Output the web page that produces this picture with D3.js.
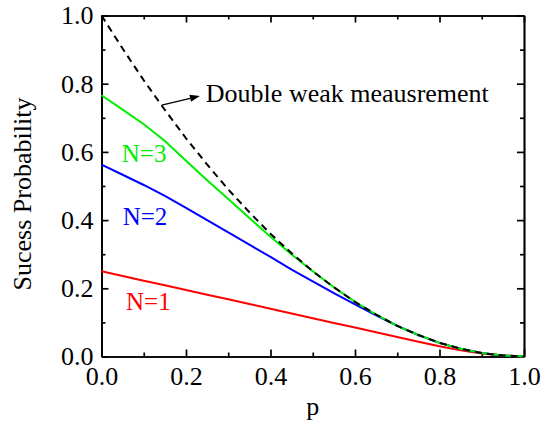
<!DOCTYPE html>
<html>
<head>
<meta charset="utf-8">
<script src="https://cdn.jsdelivr.net/npm/d3@7"></script>
<style>
	body { margin: 0; background: #fff; }
	svg, svg text, .axis text { font-family: "Times New Roman", "Liberation Serif", Times, "DejaVu Serif", serif !important; }
	.axis path, .axis line { stroke: #000; stroke-width: 1.7; }
	.axis text { font-size: 26px; fill: #000; }
</style>
</head>
<body>
<svg id="chart"></svg>
<script>
// values, p from 0 to 1 in steps of 0.05
const pValues = [0, 0.05, 0.1, 0.15, 0.2, 0.25, 0.3, 0.35, 0.4, 0.45, 0.5,
	0.55, 0.6, 0.65, 0.7, 0.75, 0.8, 0.85, 0.9, 0.95, 1];
const doubleWeak = [1.000, 0.903, 0.810, 0.723, 0.640, 0.563, 0.490, 0.423, 0.360, 0.303, 0.250,
	0.203, 0.160, 0.123, 0.090, 0.063, 0.040, 0.023, 0.010, 0.003, 0.000];
const n3 = [0.766, 0.724, 0.681, 0.632, 0.574, 0.517, 0.462, 0.406, 0.351, 0.299, 0.250,
	0.203, 0.160, 0.123, 0.090, 0.063, 0.040, 0.023, 0.010, 0.003, 0.000];
const n2 = [0.5625, 0.533, 0.503, 0.471, 0.436, 0.400, 0.364, 0.328, 0.292, 0.255, 0.220,
	0.186, 0.153, 0.121, 0.090, 0.063, 0.040, 0.023, 0.010, 0.003, 0.000];
const n1 = [0.250, 0.236, 0.222, 0.209, 0.195, 0.181, 0.168, 0.154, 0.140, 0.126, 0.112,
	0.098, 0.085, 0.071, 0.057, 0.043, 0.030, 0.018, 0.009, 0.003, 0.000];

const majorTicks = [0, 0.2, 0.4, 0.6, 0.8, 1.0];
const minorTicks = [0.1, 0.3, 0.5, 0.7, 0.9];

const serif = "'Times New Roman', 'Liberation Serif', Times, 'DejaVu Serif', serif";

const viewWidth = 547;
const viewHeight = 423;
const margin = { top: 15.5, right: 23, bottom: 66.5, left: 101.5 };
const width = viewWidth - margin.left - margin.right;
const height = viewHeight - margin.top - margin.bottom;

const svg = d3.select("#chart")
	.attr("width", viewWidth)
	.attr("height", viewHeight)
	.append("g")
	.attr("transform", "translate(" + margin.left + "," + margin.top + ")");

const x = d3.scaleLinear().domain([0, 1]).range([0, width]);
const y = d3.scaleLinear().domain([0, 1]).range([height, 0]);

const fmt = d3.format(".1f");

// major ticks with labels
svg.append("g")
	.attr("class", "axis")
	.attr("transform", "translate(0," + height + ")")
	.call(d3.axisBottom(x).tickValues(majorTicks).tickFormat(fmt)
		.tickSizeInner(-7).tickSizeOuter(0).tickPadding(10));

svg.append("g")
	.attr("class", "axis")
	.call(d3.axisLeft(y).tickValues(majorTicks).tickFormat(fmt)
		.tickSizeInner(-7).tickSizeOuter(0).tickPadding(8));

// mirrored axes on top and right
svg.append("g")
	.attr("class", "axis")
	.call(d3.axisTop(x).tickValues(majorTicks).tickFormat("")
		.tickSizeInner(-7).tickSizeOuter(0));

svg.append("g")
	.attr("class", "axis")
	.attr("transform", "translate(" + width + ",0)")
	.call(d3.axisRight(y).tickValues(majorTicks).tickFormat("")
		.tickSizeInner(-7).tickSizeOuter(0));

// minor ticks
svg.append("g").attr("class", "axis")
	.attr("transform", "translate(0," + height + ")")
	.call(d3.axisBottom(x).tickValues(minorTicks).tickFormat("").tickSizeInner(-4).tickSizeOuter(0));
svg.append("g").attr("class", "axis")
	.call(d3.axisLeft(y).tickValues(minorTicks).tickFormat("").tickSizeInner(-4).tickSizeOuter(0));
svg.append("g").attr("class", "axis")
	.call(d3.axisTop(x).tickValues(minorTicks).tickFormat("").tickSizeInner(-4).tickSizeOuter(0));
svg.append("g").attr("class", "axis")
	.attr("transform", "translate(" + width + ",0)")
	.call(d3.axisRight(y).tickValues(minorTicks).tickFormat("").tickSizeInner(-4).tickSizeOuter(0));

svg.selectAll(".axis").attr("font-family", serif);

const line = d3.line()
	.x(function (d, i) { return x(pValues[i]) })
	.y(function (d) { return y(d) });

svg.append("path")
	.datum(n1)
	.attr("fill", "none")
	.attr("stroke", "#ff0000")
	.attr("stroke-width", 2)
	.attr("d", line);

svg.append("path")
	.datum(n2)
	.attr("fill", "none")
	.attr("stroke", "#0000ff")
	.attr("stroke-width", 2)
	.attr("d", line);

svg.append("path")
	.datum(n3)
	.attr("fill", "none")
	.attr("stroke", "#00ee00")
	.attr("stroke-width", 2)
	.attr("d", line);

svg.append("path")
	.datum(doubleWeak)
	.attr("fill", "none")
	.attr("stroke", "#000")
	.attr("stroke-width", 2)
	.attr("stroke-dasharray", "7,5")
	.attr("d", line);

// curve labels
svg.append("text")
	.attr("x", x(0.048)).attr("y", y(0.571))
	.attr("font-family", serif)
	.style("font-size", "25px").style("fill", "#00ee00")
	.text("N=3");

svg.append("text")
	.attr("x", x(0.050)).attr("y", y(0.386))
	.attr("font-family", serif)
	.style("font-size", "25px").style("fill", "#0000ff")
	.text("N=2");

svg.append("text")
	.attr("x", x(0.058)).attr("y", y(0.136))
	.attr("font-family", serif)
	.style("font-size", "25px").style("fill", "#ff0000")
	.text("N=1");

// annotation with arrow
const ax0 = x(0.1425), ay0 = y(0.7375);
const ax1 = x(0.233), ay1 = y(0.764);
const ang = Math.atan2(ay1 - ay0, ax1 - ax0);
const headLen = 10, headHalf = 3.5;
const bx = ax1 - headLen * Math.cos(ang), by = ay1 - headLen * Math.sin(ang);

svg.append("line")
	.attr("x1", ax0).attr("y1", ay0)
	.attr("x2", bx).attr("y2", by)
	.attr("stroke", "#000")
	.attr("stroke-width", 1.3);

svg.append("path")
	.attr("d", "M" + ax1 + "," + ay1 +
		"L" + (bx + headHalf * Math.sin(ang)) + "," + (by - headHalf * Math.cos(ang)) +
		"L" + (bx - headHalf * Math.sin(ang)) + "," + (by + headHalf * Math.cos(ang)) + "Z")
	.attr("fill", "#000");

svg.append("text")
	.attr("x", x(0.247)).attr("y", y(0.747))
	.attr("font-family", serif)
	.style("font-size", "26px").style("fill", "#000")
	.text("Double weak meausrement");

// axis titles
svg.append("text")
	.attr("x", x(0.5)).attr("y", height + 58.5)
	.attr("text-anchor", "middle")
	.attr("font-family", serif)
	.style("font-size", "26px")
	.text("p");

svg.append("text")
	.attr("transform", "translate(" + (31 - margin.left) + "," + (194 - margin.top) + ") rotate(-90)")
	.attr("text-anchor", "middle")
	.attr("font-family", serif)
	.style("font-size", "26px")
	.text("Sucess Probability");
</script>
</body>
</html>
